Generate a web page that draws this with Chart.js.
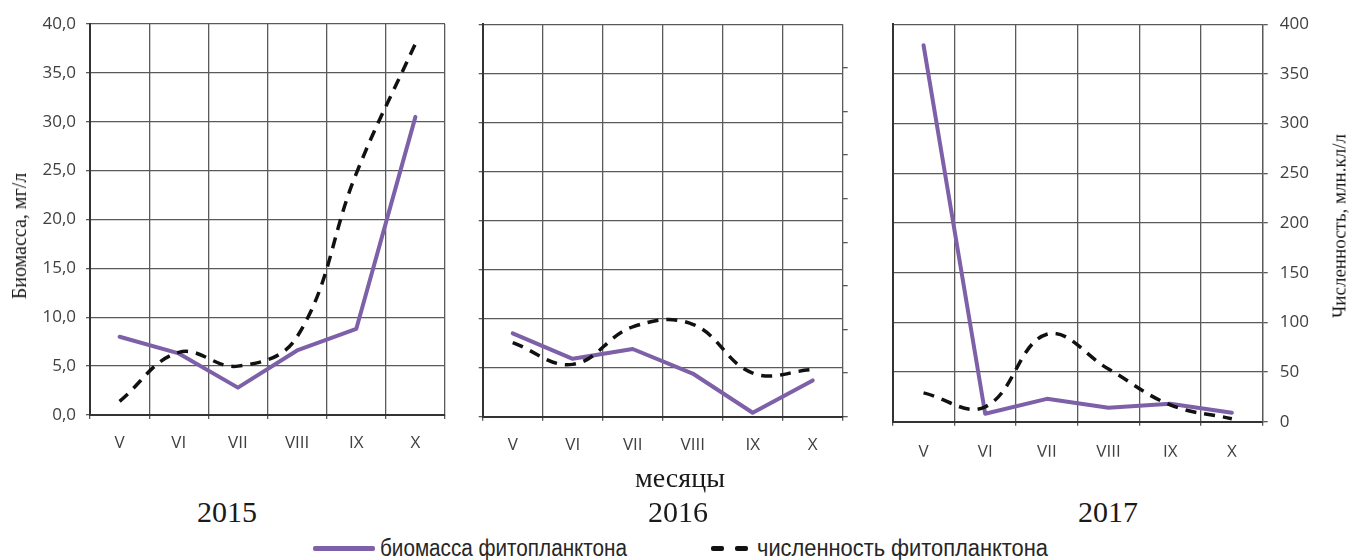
<!DOCTYPE html>
<html><head><meta charset="utf-8">
<script src="https://cdn.jsdelivr.net/npm/chart.js@4.4.0/dist/chart.umd.min.js"></script>
<style>
html,body{margin:0;padding:0;background:#fff;}
#wrap{position:relative;width:1349px;height:560px;overflow:hidden;background:#fff;}
.pane{position:absolute;top:0;height:470px;}
.pane canvas{display:block;}
.txt{position:absolute;white-space:nowrap;color:#1a1a1a;}
.serif{font-family:'Liberation Serif','Times New Roman',serif;}
.leg{font-family:'Liberation Sans Narrow','Liberation Sans',sans-serif;font-size:23px;line-height:23px;transform-origin:0 50%;color:#262626;}
</style></head><body>
<div id="wrap">
  <div class="pane" style="left:0;width:460px"><canvas id="c1" width="460" height="470"></canvas></div>
  <div class="pane" style="left:460px;width:420px"><canvas id="c2" width="420" height="470"></canvas></div>
  <div class="pane" style="left:880px;width:469px"><canvas id="c3" width="469" height="470"></canvas></div>

  <div id="tl" class="txt serif" style="font-size:20px;line-height:20px;left:19px;top:236px;transform:translate(-50%,-50%) rotate(-90deg);"></div>
  <div id="tr" class="txt serif" style="font-size:19px;line-height:19px;left:1339px;top:226px;transform:translate(-50%,-50%) rotate(-90deg);"></div>
  <div id="tx" class="txt serif" style="font-size:28px;line-height:28px;left:680px;top:464px;transform:translateX(-50%);"></div>
  <div id="y0" class="txt serif" style="font-size:30px;line-height:30px;left:227px;top:497px;transform:translateX(-50%);"></div>
  <div id="y1" class="txt serif" style="font-size:30px;line-height:30px;left:678px;top:497px;transform:translateX(-50%);"></div>
  <div id="y2" class="txt serif" style="font-size:30px;line-height:30px;left:1108px;top:497px;transform:translateX(-50%);"></div>

  <div style="position:absolute;left:313px;top:546px;width:62px;height:5px;background:#7d60a8;border-radius:2px;"></div>
  <div id="l0" class="txt leg" style="left:380px;top:537px;"></div>
  <div style="position:absolute;left:711px;top:546px;width:13px;height:5px;background:#111;border-radius:2px;"></div>
  <div style="position:absolute;left:735px;top:546px;width:13px;height:5px;background:#111;border-radius:2px;"></div>
  <div id="l1" class="txt leg" style="left:757px;top:537px;"></div>
</div>
<script>
// ---- data ----
const months = ['V', 'VI', 'VII', 'VIII', 'IX', 'X'];
const years = ['2015', '2016', '2017'];
const seriesNames = ['биомасса фитопланктона', 'численность фитопланктона'];
const biomass2015 = [8.0, 6.3, 2.8, 6.6, 8.8, 30.5];
const count2015 = [14, 64, 50, 80, 247, 380];
const biomass2016 = [8.5, 5.9, 6.9, 4.4, 0.4, 3.7];
const count2016 = [85, 60, 103, 106, 50, 54];
const biomass2017 = [37.9, 0.8, 2.3, 1.4, 1.8, 0.9];
const count2017 = [29, 15, 88, 53, 17, 3];
const biomassTickLabels = ['0,0', '5,0', '10,0', '15,0', '20,0', '25,0', '30,0', '35,0', '40,0'];
const countTickLabels = ['0', '50', '100', '150', '200', '250', '300', '350', '400'];
const leftTitle = 'Биомасса, мг/л';
const rightTitle = 'Численность, млн.кл/л';
const xTitle = 'месяцы';

// ---- texts ----
document.getElementById('tl').textContent = leftTitle;
document.getElementById('tr').textContent = rightTitle;
document.getElementById('tx').textContent = xTitle;
years.forEach((y, i) => document.getElementById('y' + i).textContent = y);
document.getElementById('l0').textContent = seriesNames[0];
document.getElementById('l1').textContent = seriesNames[1];
// fit legend text widths
[['l0', 247], ['l1', 291]].forEach(([id, w]) => {
  const el = document.getElementById(id);
  const cur = el.getBoundingClientRect().width;
  if (cur > 0) el.style.transform = 'scaleX(' + (w / cur) + ')';
});

// ---- style ----
const PURPLE = '#7d60a8';
const DASH = '#111111';
const GRID = '#5a5a5a';
const AXIS = '#333333';
const TICKFONT = { family: "'Open Sans', sans-serif", size: 17 };
const TICKCOLOR = '#404040';

function makePanel(id, bio, cnt, c) {
  return new Chart(document.getElementById(id), {
    type: 'line',
    data: {
      labels: months,
      datasets: [
        { label: seriesNames[0], data: bio, yAxisID: 'yB', borderColor: PURPLE, backgroundColor: PURPLE,
          borderWidth: 4, pointRadius: 0, tension: 0, order: 1, borderJoinStyle: 'round', borderCapStyle: 'round' },
        { label: seriesNames[1], data: cnt, yAxisID: 'yC', borderColor: DASH, backgroundColor: DASH,
          borderWidth: 3.5, borderDash: [11, 8], pointRadius: 0, tension: 0.4, order: 0, borderCapStyle: 'butt' }
      ]
    },
    options: {
      responsive: false, animation: false, events: [],
      layout: { padding: c.pad },
      plugins: { legend: { display: false }, tooltip: { enabled: false } },
      scales: {
        x: {
          offset: true,
          grid: { offset: true, color: GRID, lineWidth: 1.3, tickLength: 4 },
          border: { color: AXIS, width: 2 },
          ticks: { font: TICKFONT, color: TICKCOLOR, padding: c.xpad, autoSkip: false, maxRotation: 0 },
          afterFit: s => { s.height = 35; }
        },
        yB: {
          position: 'left', min: 0, max: 40,
          ticks: { stepSize: 5, display: c.leftLabels, font: TICKFONT, color: TICKCOLOR, padding: 10,
                   callback: (v, i) => biomassTickLabels[i] },
          grid: { display: c.leftGrid, color: GRID, lineWidth: 1.3, tickLength: 4 },
          border: { color: AXIS, width: 2 },
          afterFit: s => { s.width = c.lw; }
        },
        yC: {
          position: 'right', display: c.rightDisplay, min: 0, max: c.cmax,
          ticks: { stepSize: 50, display: c.rightLabels, font: TICKFONT, color: TICKCOLOR, padding: 12,
                   callback: (v, i) => countTickLabels[i] },
          grid: { drawOnChartArea: c.rightGrid, color: GRID, lineWidth: 1.3, tickLength: 5 },
          border: { display: c.rightBorder, color: GRID, width: 1.3 },
          afterFit: s => { s.width = c.rw; }
        }
      }
    }
  });
}

makePanel('c1', biomass2015, count2015, {
  pad: { left: 0, right: 15, top: 24, bottom: 20 }, xpad: 14,
  leftLabels: true, leftGrid: true, lw: 90,
  rightDisplay: false, rightLabels: false, rightGrid: false, rightBorder: false, rw: 0, cmax: 400
});
makePanel('c2', biomass2016, count2016, {
  pad: { left: 0, right: 27.3, top: 24.3, bottom: 18.3 }, xpad: 14,
  leftLabels: false, leftGrid: true, lw: 22.7,
  rightDisplay: true, rightLabels: false, rightGrid: false, rightBorder: false, rw: 10, cmax: 450
});
makePanel('c3', biomass2017, count2017, {
  pad: { left: 0, right: 36.3, top: 24.3, bottom: 13.3 }, xpad: 16,
  leftLabels: false, leftGrid: false, lw: 12.7,
  rightDisplay: true, rightLabels: true, rightGrid: true, rightBorder: true, rw: 50, cmax: 400
});
</script>
</body></html>
